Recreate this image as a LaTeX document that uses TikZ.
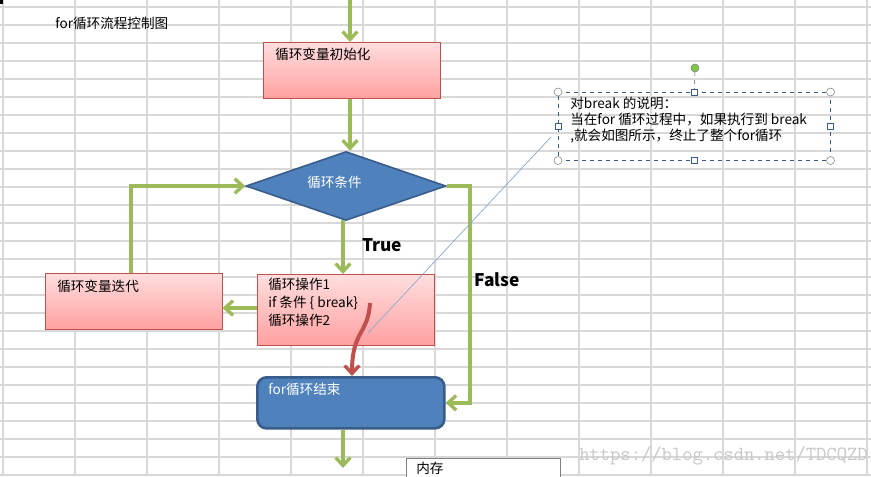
\documentclass[tikz,border=0pt]{standalone}
\usepackage{fontspec}
\setmainfont{Noto Sans CJK SC}
\usetikzlibrary{shapes.geometric,arrows.meta,calc}
\definecolor{xlgrid}{RGB}{216,216,216}
\definecolor{xlgreen}{RGB}{155,187,89}
\definecolor{xlblue}{RGB}{79,129,189}
\definecolor{xlblueb}{RGB}{56,93,138}
\definecolor{xlred}{RGB}{192,80,77}
\definecolor{xlpinkt}{RGB}{255,222,222}
\definecolor{xlpinkb}{RGB}{255,160,160}
\tikzset{
  pinkbox/.style={draw=xlred, top color=xlpinkt, bottom color=xlpinkb, anchor=north west, inner sep=0pt},
  flowarrow/.style={xlgreen, line width=3pt, -{Straight Barb[length=6pt,width=11pt,line width=2.5pt]}},
  txt/.style={font=\fontsize{10.2}{14.5}\selectfont, anchor=north west, inner sep=0pt, align=left}
}
\begin{document}
\begin{tikzpicture}[x=0.75pt, y=-0.75pt]
\useasboundingbox (0,0) rectangle (871,476);
\clip (0,0) rectangle (871,476);
\fill[white] (0,0) rectangle (871,476);
% Excel grid
\foreach \gx in {3,75,...,867} \draw[xlgrid, line width=0.8pt] (\gx,0) -- (\gx,476);
\foreach \gy in {7,25,...,475} \draw[xlgrid, line width=0.8pt] (0,\gy) -- (871,\gy);
\fill[black] (0,0) rectangle (3,4);

% Title
\node[txt] (title) at (55,17) {for循环流程控制图};

% Boxes
\node[pinkbox, minimum width=177*0.75pt, minimum height=56*0.75pt] (init) at (263,42) {};
\node[txt] at (275,48) {循环变量初始化};
\node[diamond, draw=xlblueb, line width=1.2pt, fill=xlblue, aspect=2.9, minimum width=200*0.75pt, minimum height=69*0.75pt, inner sep=0pt] (cond) at (346,186) {};
\node[txt, text=white] at (307,176) {循环条件};
\node[pinkbox, minimum width=177*0.75pt, minimum height=71*0.75pt] (ops) at (257,274) {};
\node[txt] at (268,278) {循环操作1\\[-1pt]if 条件 \{ break\}\\[-1pt]循环操作2};
\node[pinkbox, minimum width=177*0.75pt, minimum height=56*0.75pt] (iter) at (45,273) {};
\node[txt] at (57,280) {循环变量迭代};
\node[draw=xlblueb, line width=2pt, fill=xlblue, rounded corners=7pt, anchor=north west, minimum width=187*0.75pt, minimum height=51*0.75pt] (done) at (256,376) {};
\node[txt, text=white] at (268,383) {for循环结束};

% Connectors
\coordinate (topin) at (350,0);
\coordinate (bottomout) at (343,468);
\draw[flowarrow] (topin) -- (init.north -| topin);
\draw[flowarrow] (init.south -| topin) -- (cond.north -| topin);
\draw[flowarrow] (343,220) -- (ops.north -| 343,0);
\node[font=\bfseries\fontsize{13}{15}\selectfont] (truelbl) at (382,245) {True};
\draw[flowarrow] (ops.west |- 0,308) -- (iter.east |- 0,308);
\draw[flowarrow] (iter.north -| 131,0) |- (cond.west);
\draw[flowarrow] (cond.east) -- (470,186) |- (done.east);
\node[font=\bfseries\fontsize{13}{15}\selectfont] (falselbl) at (497,280) {False};
\draw[flowarrow] (done.south -| bottomout) -- (bottomout);
\draw[xlred, line width=3pt, -{Straight Barb[length=6pt,width=11pt,line width=2.5pt]}] (370,303) .. controls (368,335) and (352,330) .. (done.north -| 352,0);

% Note
\node[txt, draw=xlblueb, dashed, minimum width=272*0.75pt, minimum height=68*0.75pt, inner sep=4pt, text depth=0pt] (note) at (558,92) {};
\node[txt] at (570,97) {对break 的说明：\\[-2.5pt]当在for 循环过程中，如果执行到 break\\[-2.5pt],就会如图所示，终止了整个for循环};
\draw[xlblue!70, line width=0.5pt] (551,137) -- (368,333);
\draw[xlblueb, dashed] (note.north) -- (695,68);
\fill[xlgreen!80!green, draw=gray] (695,68) circle (4);
\foreach \hc in {note.north west, note.north east, note.south west, note.south east}
  \draw[gray, fill=white] (\hc) circle (4);
\foreach \hs in {note.north, note.south, note.west, note.east}
  \draw[xlblueb, fill=white] ($(\hs)+(-3,-3)$) rectangle ($(\hs)+(3,3)$);

% Bottom cell and watermark
\draw[gray, fill=white] (406,458) rectangle (560,480);
\node[txt] at (416,462) {内存};
\node[txt, text=black!22, font=\ttfamily\fontsize{15}{17}\selectfont] at (579,446) {https://blog.csdn.net/TDCQZD};
\end{tikzpicture}
\end{document}
